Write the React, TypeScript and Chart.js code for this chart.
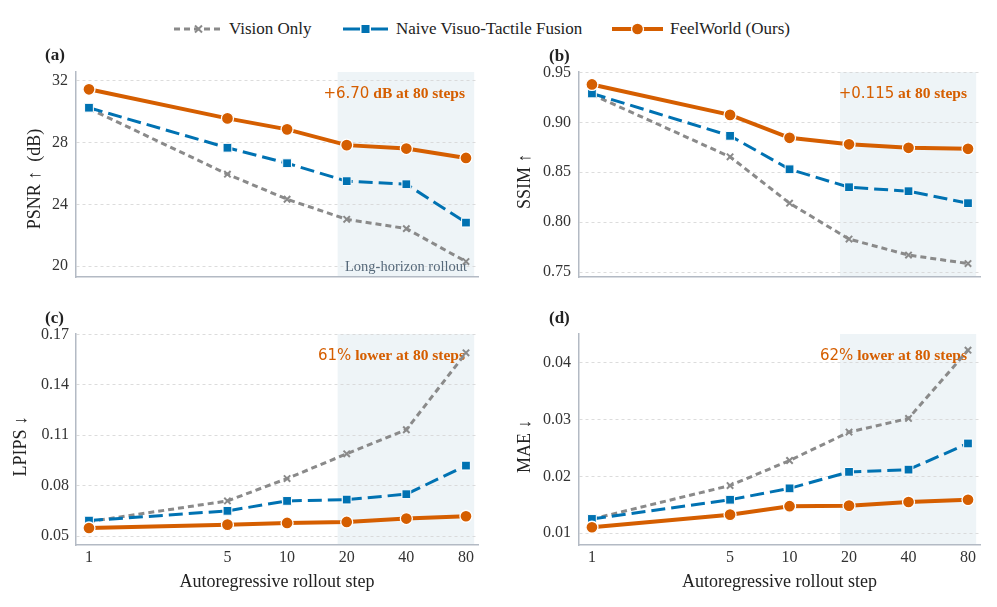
import React, { useEffect, useRef } from "react";
import { Chart, registerables } from "chart.js";

Chart.register(...registerables);

// ---------------- data ----------------
const STEPS = [1, 5, 10, 20, 40, 80];
const SERIES_NAMES = ["Vision Only", "Naive Visuo-Tactile Fusion", "FeelWorld (Ours)"];
const LONG_HORIZON = [18, 88];
const X_LIMITS = [0.86, 92];

const PSNR_VISION = [30.2, 25.95, 24.33, 23.03, 22.43, 20.3];
const PSNR_NAIVE = [30.25, 27.66, 26.66, 25.5, 25.3, 22.82];
const PSNR_OURS = [31.44, 29.56, 28.85, 27.83, 27.61, 27.0];
const PSNR_TICKS = [20, 24, 28, 32];

const SSIM_VISION = [0.928, 0.8655, 0.819, 0.783, 0.767, 0.7585];
const SSIM_NAIVE = [0.929, 0.8865, 0.853, 0.835, 0.831, 0.819];
const SSIM_OURS = [0.938, 0.9075, 0.8845, 0.878, 0.8745, 0.8735];
const SSIM_TICKS = [0.75, 0.8, 0.85, 0.9, 0.95];

const LPIPS_VISION = [0.0587, 0.071, 0.0843, 0.099, 0.1133, 0.159];
const LPIPS_NAIVE = [0.0593, 0.0651, 0.071, 0.0718, 0.075, 0.092];
const LPIPS_OURS = [0.0549, 0.0569, 0.0579, 0.0585, 0.0605, 0.0619];
const LPIPS_TICKS = [0.05, 0.08, 0.11, 0.14, 0.17];

const MAE_VISION = [0.0125, 0.0184, 0.0228, 0.0278, 0.0302, 0.0422];
const MAE_NAIVE = [0.01252, 0.0159, 0.0179, 0.0208, 0.0212, 0.0258];
const MAE_OURS = [0.01106, 0.01328, 0.01476, 0.01486, 0.0155, 0.0159];
const MAE_TICKS = [0.01, 0.02, 0.03, 0.04];

// ---------------- styles ----------------
const GRAY = "#8a8a8a";
const BLUE = "#0072B2";
const ORANGE = "#D55E00";
const SHADE = "#eef4f7";
const SPINE = "#b3bac4";
const GRID = "#d4d4d4";
const SERIF = '"Liberation Serif", "Times New Roman", serif';
const SANS = '"DejaVu Sans", sans-serif';

type Panel = {
  label: string;
  yTitle: string;
  yTicks: number[];
  yMin: number;
  yMax: number;
  dec: number;
  vision: number[];
  naive: number[];
  ours: number[];
  annNum: string;
  annText: string;
  longHorizonText: boolean;
  showX: boolean;
  box: { left: number; top: number; w: number; h: number };
  yw: number;
  xh: number;
  padR: number;
  padT: number;
  titlePad: number;
  tickPad: number;
  labelPos: [number, number];
};

const PANELS: Panel[] = [
  {
    label: "(a)", yTitle: "PSNR \u2191  (dB)\u2002", yTicks: PSNR_TICKS, yMin: 19.3, yMax: 32.56, dec: 0,
    vision: PSNR_VISION, naive: PSNR_NAIVE, ours: PSNR_OURS,
    annNum: "+6.70", annText: " dB at 80 steps", longHorizonText: true, showX: false,
    box: { left: 0, top: 40, w: 497, h: 260 }, yw: 76, xh: 23, padR: 19, padT: 32, titlePad: 24, tickPad: 8,
    labelPos: [45, 16],
  },
  {
    label: "(b)", yTitle: "SSIM \u2191 \u2002", yTicks: SSIM_TICKS, yMin: 0.745, yMax: 0.9505, dec: 2,
    vision: SSIM_VISION, naive: SSIM_NAIVE, ours: SSIM_OURS,
    annNum: "+0.115", annText: " at 80 steps", longHorizonText: false, showX: false,
    box: { left: 497, top: 40, w: 500, h: 260 }, yw: 82, xh: 23, padR: 17, padT: 32, titlePad: 17, tickPad: 8,
    labelPos: [52, 17],
  },
  {
    label: "(c)", yTitle: "LPIPS \u2193 \u2002", yTicks: LPIPS_TICKS, yMin: 0.0448, yMax: 0.1702, dec: 2,
    vision: LPIPS_VISION, naive: LPIPS_NAIVE, ours: LPIPS_OURS,
    annNum: "61%", annText: " lower at 80 steps", longHorizonText: false, showX: true,
    box: { left: 0, top: 300, w: 497, h: 307 }, yw: 76, xh: 62, padR: 19, padT: 34, titlePad: 10, tickPad: 7,
    labelPos: [45, 19],
  },
  {
    label: "(d)", yTitle: "MAE \u2193 \u2002", yTicks: MAE_TICKS, yMin: 0.00794, yMax: 0.04505, dec: 2,
    vision: MAE_VISION, naive: MAE_NAIVE, ours: MAE_OURS,
    annNum: "62%", annText: " lower at 80 steps", longHorizonText: false, showX: true,
    box: { left: 497, top: 300, w: 500, h: 307 }, yw: 82, xh: 62, padR: 17, padT: 34, titlePad: 17, tickPad: 8,
    labelPos: [52, 19],
  },
];

function pts(vals: number[]) {
  return STEPS.map((s, i) => ({ x: s, y: vals[i] }));
}

function makeConfig(p: Panel): any {
  const decor = {
    id: "decor" + p.label,
    beforeDraw(chart: any) {
      const { ctx, chartArea, scales } = chart;
      const x0 = scales.x.getPixelForValue(LONG_HORIZON[0]);
      const x1 = scales.x.getPixelForValue(LONG_HORIZON[1]);
      ctx.save();
      ctx.fillStyle = SHADE;
      ctx.fillRect(x0, chartArea.top, x1 - x0, chartArea.bottom - chartArea.top);
      ctx.font = `bold 17px ${SERIF}`;
      ctx.fillStyle = "#222";
      ctx.textAlign = "left";
      ctx.textBaseline = "middle";
      ctx.fillText(p.label, p.labelPos[0], p.labelPos[1]);
      ctx.restore();
    },
    beforeDatasetsDraw(chart: any) {
      const { ctx, chartArea } = chart;
      ctx.save();
      const xr = chartArea.right - 13;
      const ya = chartArea.top + 22;
      ctx.textAlign = "right";
      ctx.textBaseline = "middle";
      ctx.fillStyle = ORANGE;
      ctx.font = `bold 15.5px ${SERIF}`;
      const w = ctx.measureText(p.annText).width;
      ctx.fillText(p.annText, xr, ya);
      ctx.font = `15px ${SANS}`;
      ctx.fillText(p.annNum, xr - w, ya);
      if (p.longHorizonText) {
        ctx.font = `14.5px ${SERIF}`;
        ctx.fillStyle = "#56697a";
        ctx.fillText("Long-horizon rollout", chartArea.right - 11, chartArea.bottom - 10);
      }
      ctx.restore();
    },
  };

  return {
    type: "line",
    data: {
      datasets: [
        {
          label: SERIES_NAMES[0], data: pts(p.vision), order: 3,
          borderColor: GRAY, borderWidth: 3, borderDash: [6, 4], tension: 0,
          pointStyle: "crossRot", pointRadius: 4.5, pointBorderColor: GRAY, pointBorderWidth: 2,
          pointBackgroundColor: GRAY, fill: false,
        },
        {
          label: SERIES_NAMES[1], data: pts(p.naive), order: 2,
          borderColor: BLUE, borderWidth: 3, borderDash: [14, 6], tension: 0,
          pointStyle: "rect", pointRadius: 6.2, pointBackgroundColor: BLUE, pointBorderColor: "#fff",
          pointBorderWidth: 1, fill: false,
        },
        {
          label: SERIES_NAMES[2], data: pts(p.ours), order: 1,
          borderColor: ORANGE, borderWidth: 4, tension: 0,
          pointStyle: "circle", pointRadius: 6, pointBackgroundColor: ORANGE, pointBorderColor: "#fff",
          pointBorderWidth: 1.3, fill: false,
        },
      ],
    },
    options: {
      animation: false,
      responsive: false,
      maintainAspectRatio: false,
      layout: { padding: { left: 0, right: p.padR, top: p.padT, bottom: 0 } },
      plugins: { legend: { display: false }, tooltip: { enabled: false } },
      events: [],
      scales: {
        x: {
          type: "logarithmic",
          min: X_LIMITS[0],
          max: X_LIMITS[1],
          afterBuildTicks: (s: any) => {
            s.ticks = STEPS.map((v) => ({ value: v }));
          },
          afterFit: (s: any) => {
            s.height = p.xh;
          },
          grid: { display: false, drawTicks: false },
          border: { display: true, color: SPINE, width: 1.5 },
          ticks: {
            display: p.showX, padding: 3, color: "#333", autoSkip: false, maxRotation: 0,
            font: { family: SERIF, size: 16 },
            callback: (v: any) => String(v),
          },
          title: {
            display: p.showX, text: "Autoregressive rollout step", color: "#222",
            font: { family: SERIF, size: 18 }, padding: { top: 0, bottom: 14 },
          },
        },
        y: {
          type: "linear",
          min: p.yMin,
          max: p.yMax,
          afterBuildTicks: (s: any) => {
            s.ticks = p.yTicks.map((v) => ({ value: v }));
          },
          afterFit: (s: any) => {
            s.width = p.yw;
          },
          grid: { color: GRID, lineWidth: 0.8, drawTicks: false },
          border: { display: true, color: SPINE, width: 1.5, dash: [3, 3] },
          ticks: {
            padding: p.tickPad, color: "#333", font: { family: SERIF, size: 16 },
            callback: (v: any) => Number(v).toFixed(p.dec),
          },
          title: {
            display: true, text: p.yTitle, color: "#222",
            font: { family: SERIF, size: 18 }, padding: { top: p.titlePad, bottom: 0 },
          },
        },
      },
    },
    plugins: [decor],
  };
}

function PanelChart({ p }: { p: Panel }) {
  const ref = useRef<HTMLCanvasElement | null>(null);
  useEffect(() => {
    if (!ref.current) return;
    const chart = new Chart(ref.current, makeConfig(p));
    return () => chart.destroy();
  }, [p]);
  return (
    <canvas
      ref={ref}
      width={p.box.w}
      height={p.box.h}
      style={{
        position: "absolute", left: p.box.left, top: p.box.top,
        width: p.box.w, height: p.box.h, display: "block",
      }}
    />
  );
}

function LegendHandle({ kind }: { kind: number }) {
  if (kind === 0) {
    return (
      <svg width={49} height={16} style={{ position: "absolute", left: 174, top: 21 }}>
        <line x1={0} y1={8} x2={49} y2={8} stroke={GRAY} strokeWidth={3} strokeDasharray="6 4" />
        <line x1={21} y1={4.5} x2={28} y2={11.5} stroke={GRAY} strokeWidth={2} />
        <line x1={21} y1={11.5} x2={28} y2={4.5} stroke={GRAY} strokeWidth={2} />
      </svg>
    );
  }
  if (kind === 1) {
    return (
      <svg width={45} height={16} style={{ position: "absolute", left: 343, top: 21 }}>
        <line x1={0} y1={8} x2={45} y2={8} stroke={BLUE} strokeWidth={3} strokeDasharray="17 11 17" />
        <rect x={18} y={3.5} width={9} height={9} fill={BLUE} stroke="#fff" strokeWidth={1} />
      </svg>
    );
  }
  return (
    <svg width={51} height={16} style={{ position: "absolute", left: 612, top: 21 }}>
      <line x1={0} y1={8} x2={51} y2={8} stroke={ORANGE} strokeWidth={4} />
      <circle cx={25.5} cy={8} r={6} fill={ORANGE} stroke="#fff" strokeWidth={1.3} />
    </svg>
  );
}

const LEGEND_TEXT_X = [229, 396, 670];

export default function App() {
  return (
    <div
      style={{
        position: "absolute", left: 0, top: 0, width: 997, height: 607,
        background: "#fff", overflow: "hidden",
      }}
    >
      {SERIES_NAMES.map((n, i) => (
        <React.Fragment key={n}>
          <LegendHandle kind={i} />
          <span
            style={{
              position: "absolute", left: LEGEND_TEXT_X[i], top: 18, lineHeight: "22px",
              fontFamily: SERIF, fontSize: 17, color: "#222", whiteSpace: "nowrap",
            }}
          >
            {n}
          </span>
        </React.Fragment>
      ))}
      {PANELS.map((p) => (
        <PanelChart key={p.label} p={p} />
      ))}
    </div>
  );
}
